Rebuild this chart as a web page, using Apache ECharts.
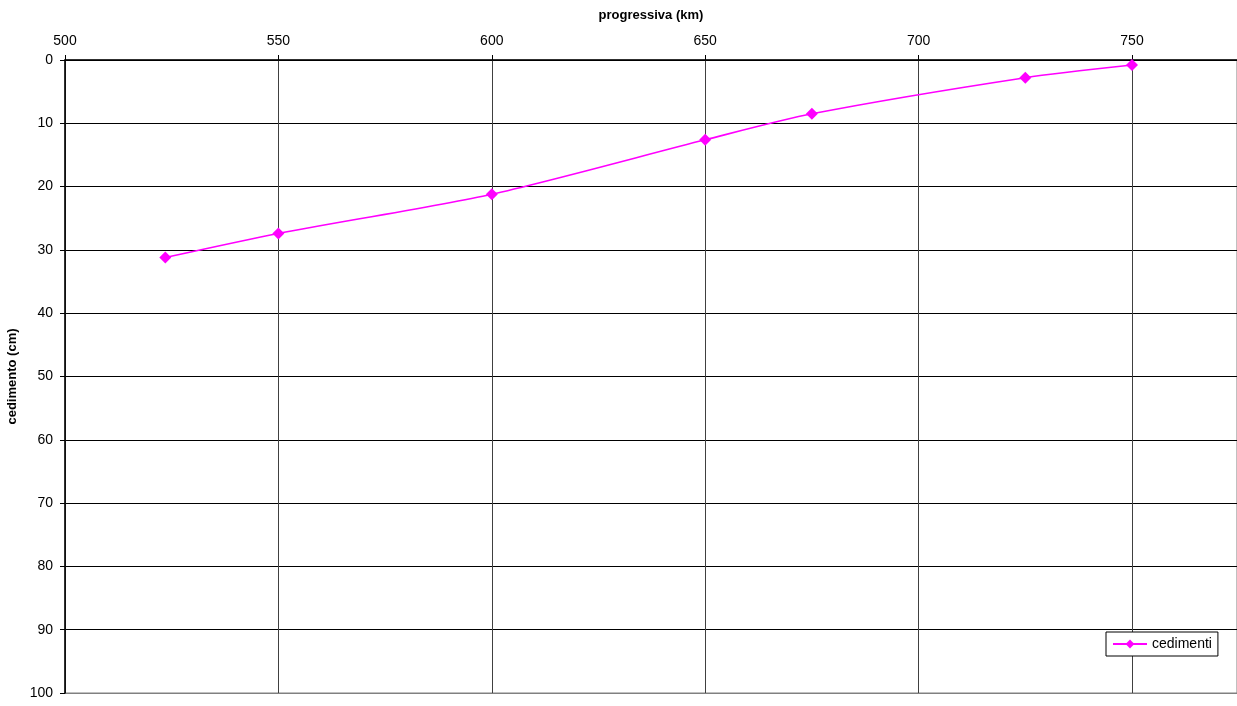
<!DOCTYPE html>
<html>
<head>
<meta charset="utf-8">
<script src="https://cdn.jsdelivr.net/npm/echarts@6/dist/echarts.min.js"></script>
<style>
  html, body { margin: 0; padding: 0; background: #fff; }
  #chart { width: 1237px; height: 706px; }
</style>
</head>
<body>
<div id="chart"></div>
<script>
// Settlement along the alignment (progressiva in km, cedimento in cm)
const progressiva = [523.5, 550, 600, 650, 675, 725, 750];
const cedimenti = [31.2, 27.4, 21.2, 12.6, 8.5, 2.8, 0.8];

const seriesData = progressiva.map((x, i) => [x, cedimenti[i]]);

const chart = echarts.init(document.getElementById('chart'));
const font = 'Liberation Sans, Arial, sans-serif';

chart.setOption({
  animation: false,
  backgroundColor: '#fff',
  textStyle: { fontFamily: font },
  grid: {
    left: 65, right: 0, top: 60, bottom: 13,
    outerBoundsMode: 'none',
    containLabel: false,
    show: true, borderColor: '#808080', borderWidth: 1
  },
  legend: {
    left: 1106, top: 632,
    padding: [5, 6, 5, 6],
    borderColor: '#000', borderWidth: 1, borderRadius: 0,
    backgroundColor: '#fff',
    itemWidth: 34, itemHeight: 11, itemGap: 4,
    textStyle: { fontFamily: font, fontSize: 14, color: '#000' },
    data: ['cedimenti']
  },
  xAxis: {
    type: 'value',
    position: 'top',
    min: 500, max: 774.6, interval: 50,
    name: 'progressiva (km)',
    nameLocation: 'middle',
    nameGap: 38,
    nameTextStyle: { fontFamily: font, fontSize: 13, fontWeight: 'bold', color: '#000' },
    axisLine: { show: true, onZero: false, lineStyle: { color: '#000', width: 1.5 } },
    axisTick: { show: true, length: 5, lineStyle: { color: '#000' } },
    axisLabel: { fontFamily: font, fontSize: 14, color: '#000', margin: 12, showMaxLabel: false },
    splitLine: { show: true, lineStyle: { color: '#404040', width: 1 } }
  },
  yAxis: {
    type: 'value',
    inverse: true,
    min: 0, max: 100, interval: 10,
    name: 'cedimento (cm)',
    nameLocation: 'middle',
    nameGap: 41,
    nameTextStyle: { fontFamily: font, fontSize: 13, fontWeight: 'bold', color: '#000' },
    axisLine: { show: true, onZero: false, lineStyle: { color: '#000', width: 1.5 } },
    axisTick: { show: true, length: 5, lineStyle: { color: '#000' } },
    axisLabel: { fontFamily: font, fontSize: 14, color: '#000', margin: 12 },
    splitLine: {
      show: true,
      lineStyle: {
        color: ['#000', '#000', '#000', '#000', '#000', '#000', '#000', '#000', '#000', '#000', '#808080'],
        width: 1
      }
    }
  },
  series: [{
    name: 'cedimenti',
    type: 'line',
    data: seriesData,
    smooth: 0.25,
    symbol: 'diamond',
    symbolSize: 12,
    itemStyle: { color: '#ff00ff' },
    lineStyle: { color: '#ff00ff', width: 1.6 }
  }]
});
</script>
</body>
</html>
